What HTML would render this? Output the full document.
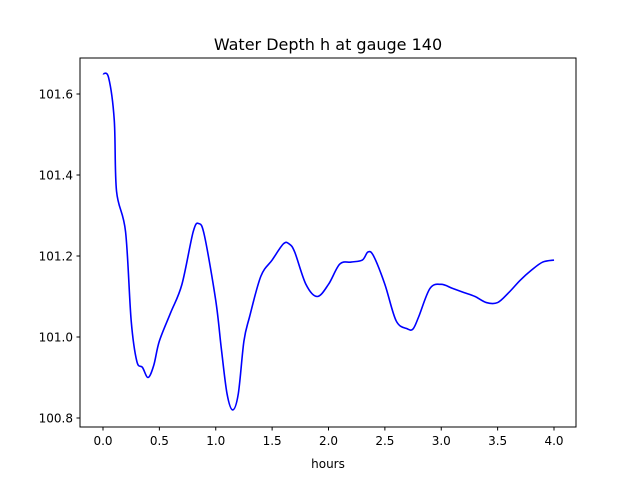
<!DOCTYPE html>
<html><head><meta charset="utf-8"><style>
body{margin:0;background:#fff;}
svg text{font-family:"DejaVu Sans","Liberation Sans",sans-serif;fill:#000;}
</style></head><body>
<svg id="chart" width="640" height="480" viewBox="0 0 640 480">
<rect x="0" y="0" width="640" height="480" fill="#fff"/>
<text x="328" y="50" font-size="16" text-anchor="middle">Water Depth h at gauge 140</text>
<g id="plot"></g>
<rect x="80" y="58" width="496" height="369" fill="none" stroke="#000" stroke-width="1"/>
<text x="328" y="468" font-size="12" text-anchor="middle">hours</text>
</svg>
<script>
const times=[0,0.05,0.1,0.12,0.2,0.25,0.3,0.35,0.4,0.45,0.5,0.6,0.7,0.8,0.85,0.9,1.0,1.05,1.1,1.15,1.2,1.25,1.3,1.4,1.5,1.6,1.65,1.7,1.8,1.9,2.0,2.1,2.2,2.3,2.35,2.4,2.5,2.6,2.7,2.75,2.8,2.9,3.0,3.1,3.2,3.3,3.4,3.5,3.6,3.7,3.8,3.9,4.0];
const depths=[101.65,101.64,101.535,101.36,101.26,101.04,100.94,100.925,100.90,100.93,100.99,101.06,101.13,101.26,101.28,101.25,101.09,100.97,100.86,100.82,100.86,100.99,101.05,101.15,101.19,101.23,101.23,101.21,101.13,101.10,101.13,101.18,101.185,101.19,101.21,101.20,101.13,101.04,101.02,101.02,101.05,101.12,101.13,101.12,101.11,101.10,101.085,101.085,101.11,101.14,101.165,101.185,101.19];
const xTicks=[0,0.5,1,1.5,2,2.5,3,3.5,4];
const yTicks=[100.8,101.0,101.2,101.4,101.6];
const xs=v=>103+v*112.75;
const ys=v=>418-(v-100.8)*405;
const NS="http://www.w3.org/2000/svg";
const g=document.getElementById('plot');
function mk(t,a){const e=document.createElementNS(NS,t);for(const k in a)e.setAttribute(k,a[k]);g.appendChild(e);return e;}
xTicks.forEach(v=>{
  const l=mk('line',{x1:xs(v),x2:xs(v),y1:427,y2:430.5,stroke:'#000'});
  
  
  const t=mk('text',{x:xs(v),y:445,'font-size':12,'text-anchor':'middle'});
  t.textContent=v.toFixed(1);
  
  
});
yTicks.forEach(v=>{
  const l=mk('line',{x1:76.5,x2:80,y1:ys(v),y2:ys(v),stroke:'#000'});
  
  
  const t=mk('text',{x:73,y:ys(v)+4.5,'font-size':12,'text-anchor':'end'});
  t.textContent=v.toFixed(1);
  
  
});
const pts=times.map((t,i)=>[xs(t),ys(depths[i])]);
let d='M'+pts[0][0]+','+pts[0][1];
for(let i=0;i<pts.length-1;i++){
  const p0=pts[Math.max(i-1,0)],p1=pts[i],p2=pts[i+1],p3=pts[Math.min(i+2,pts.length-1)];
  const c1=[p1[0]+(p2[0]-p0[0])/6,p1[1]+(p2[1]-p0[1])/6];
  const c2=[p2[0]-(p3[0]-p1[0])/6,p2[1]-(p3[1]-p1[1])/6];
  d+=' C'+c1+' '+c2+' '+p2;
}
const line=mk('path',{d:d,fill:'none',stroke:'#0000ff','stroke-width':1.6});


</script>
</body></html>
